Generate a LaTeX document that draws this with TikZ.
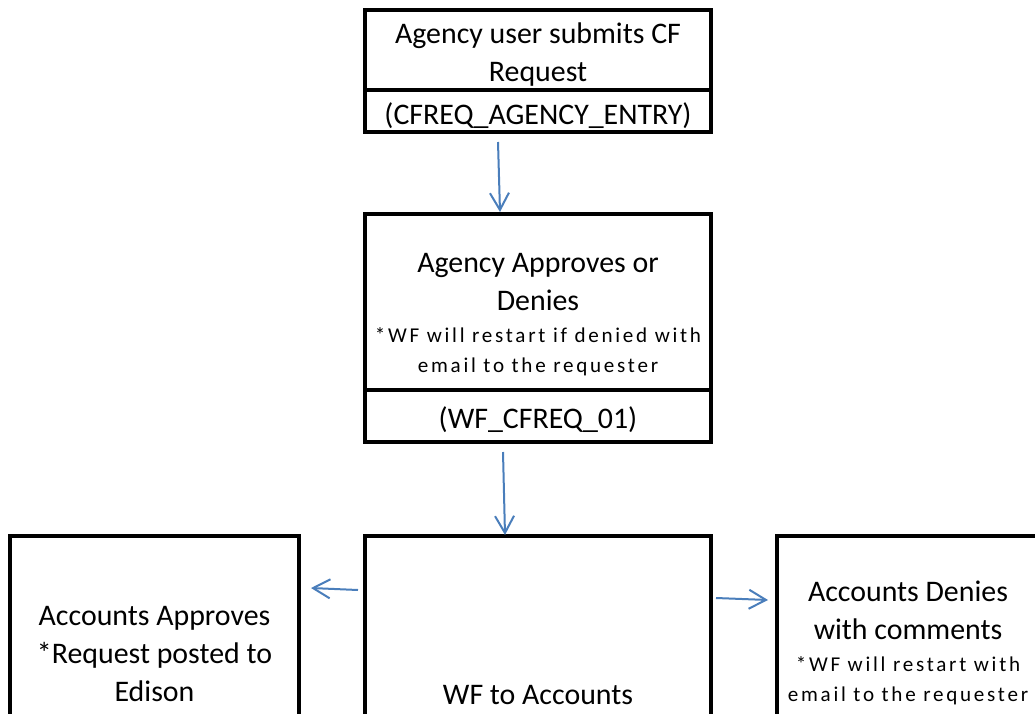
\documentclass[tikz,border=0pt]{standalone}
\usepackage{fontspec}
\setmainfont{Carlito}
\newfontfamily\spacedfont{Carlito}[LetterSpace=13]
\usetikzlibrary{arrows.meta,positioning}
\definecolor{flowblue}{RGB}{74,126,187}
\newcommand{\smallnote}[1]{{\spacedfont\fontsize{12}{17.6}\selectfont #1}}

\begin{document}
\begin{tikzpicture}[>={Straight Barb[length=0.34cm,width=0.38cm]},font=\fontsize{17}{21.6}\selectfont]
\tikzstyle{flowbox}=[draw,line width=0.08cm,outer sep=0pt,inner sep=0pt,align=center,minimum width=6.92cm]
\tikzstyle{flow}=[->,draw=flowblue,line width=0.04cm]
\useasboundingbox (0,0) rectangle (20.7,-14.26);
\clip (0,0) rectangle (20.7,-14.26);
% request entry
\node[flowbox,minimum height=1.6cm] (t1) at (10.76,-1.0) {\rule{0pt}{17pt}Agency user submits CF\\Request};
\node[flowbox,minimum height=0.84cm,below=0pt of t1] (t2) {\rule{0pt}{17.3pt}(CFREQ\_AGENCY\_ENTRY)};
% agency step
\node[flowbox,minimum height=3.52cm] (m1) at (10.76,-6.04) {\rule{0pt}{25pt}Agency Approves or\\Denies\\[-3.4pt]\smallnote{*WF will restart if denied with}\\[-4.5pt]\smallnote{email to the requester}};
\node[flowbox,minimum height=1.03cm,below=0pt of m1] (m2) {\rule{0pt}{17.3pt}(WF\_CFREQ\_01)};
% accounts step
\node[flowbox,anchor=north,minimum width=5.78cm,minimum height=4.72cm] (b1) at (3.09,-10.72) {Accounts Approves\\*Request posted to\\Edison};
\node[flowbox,anchor=north,minimum height=6.36cm] (b2) at (10.76,-10.72) {WF to Accounts};
\node[flowbox,anchor=north,minimum width=5.24cm,minimum height=4.28cm] (b3) at (18.16,-10.72) {Accounts Denies\\with comments\\[-3.4pt]\smallnote{*WF will restart with}\\[-4.5pt]\smallnote{email to the requester}};
\draw[flow] ([xshift=-0.8cm,yshift=-0.2cm]t2.south) -- ([xshift=-0.76cm,yshift=0.04cm]m1.north);
\draw[flow] ([xshift=-0.7cm,yshift=-0.21cm]m2.south) -- ([xshift=-0.66cm,yshift=0.02cm]b2.north);
\draw[flow] ([xshift=-0.14cm,yshift=-1.08cm]b2.north west) -- ([xshift=0.24cm,yshift=-1.04cm]b1.north east);
\draw[flow] ([xshift=0.1cm,yshift=-1.24cm]b2.north east) -- ([xshift=-0.18cm,yshift=-1.28cm]b3.north west);
\end{tikzpicture}
\end{document}
